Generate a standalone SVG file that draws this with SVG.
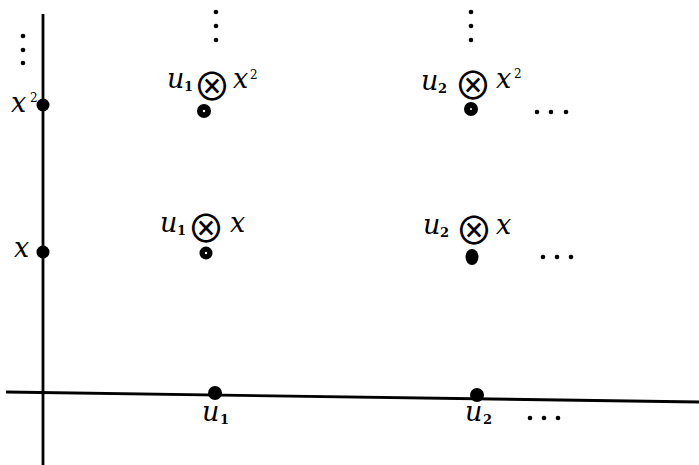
<svg xmlns="http://www.w3.org/2000/svg" width="699" height="465" viewBox="0 0 699 465">
<style>
text{font-family:'DejaVu Serif',serif;font-style:italic;font-size:27px;fill:#000}
.sub{font-size:13px;font-style:normal;font-weight:bold}
.sup{font-size:12px;font-style:normal}
.op{font-family:'Noto Sans CJK JP','DejaVu Sans',sans-serif;font-style:normal;font-size:38px}
.ax{stroke:#000;stroke-width:2.8;fill:none}
.dot{fill:#000}
.sm{fill:#000}
.hole{fill:#fff}
</style>
<rect width="699" height="465" fill="#fff"/>
<g id="connectors">
<line class="ax" x1="43" y1="14" x2="43" y2="465"/>
<line class="ax" x1="6" y1="392" x2="699" y2="402"/>
</g>
<g id="vdots-axis"><circle class="sm" cx="23" cy="36" r="2.3"/><circle class="sm" cx="23" cy="50" r="2.3"/><circle class="sm" cx="23" cy="63" r="2.3"/></g>
<g id="vdots-u1"><circle class="sm" cx="216" cy="12" r="2.3"/><circle class="sm" cx="216" cy="26" r="2.3"/><circle class="sm" cx="216" cy="40" r="2.3"/></g>
<g id="vdots-u2"><circle class="sm" cx="471" cy="12" r="2.3"/><circle class="sm" cx="471" cy="26" r="2.3"/><circle class="sm" cx="471" cy="40" r="2.3"/></g>
<g id="node-x2"><circle class="dot" cx="43" cy="105" r="6.5"/><text x="11" y="112">x<tspan class="sup" x="30" y="102">2</tspan></text></g>
<g id="node-x"><circle class="dot" cx="43" cy="252" r="6.5"/><text x="14" y="257">x</text></g>
<g id="node-u1"><circle class="dot" cx="215" cy="393" r="7"/><text x="202" y="421">u<tspan class="sub" x="220" y="424">1</tspan></text></g>
<g id="node-u2"><circle class="dot" cx="477" cy="395" r="7"/><text x="465" y="421">u<tspan class="sub" x="483" y="424">2</tspan></text></g>
<g id="hdots-u2"><circle class="sm" cx="530" cy="418" r="2.3"/><circle class="sm" cx="544" cy="418" r="2.3"/><circle class="sm" cx="558" cy="418" r="2.3"/></g>
<g id="node-u1x2"><circle class="dot" cx="204" cy="111" r="7"/><circle class="hole" cx="204" cy="111" r="1.2"/>
<text x="167" y="88">u<tspan class="sub" x="184" y="91">1</tspan><tspan class="op" x="193" y="99.5">⊗</tspan><tspan x="233" y="88">x</tspan><tspan class="sup" x="250" y="79">2</tspan></text></g>
<g id="node-u2x2"><circle class="dot" cx="471" cy="109" r="7"/><circle class="hole" cx="471" cy="109" r="1"/>
<text x="421" y="90">u<tspan class="sub" x="438" y="93">2</tspan><tspan class="op" x="454" y="98.5">⊗</tspan><tspan x="496" y="88">x</tspan><tspan class="sup" x="514" y="78">2</tspan></text></g>
<g id="hdots-u2x2"><circle class="sm" cx="537" cy="112" r="2.3"/><circle class="sm" cx="551" cy="112" r="2.3"/><circle class="sm" cx="566" cy="112" r="2.3"/></g>
<g id="node-u1x"><circle class="dot" cx="206" cy="253" r="6.5"/><circle class="hole" cx="206" cy="253" r="1.2"/>
<text x="160" y="232">u<tspan class="sub" x="177" y="235">1</tspan><tspan class="op" x="187" y="241.5">⊗</tspan><tspan x="230" y="232">x</tspan></text></g>
<g id="node-u2x"><ellipse class="dot" cx="472" cy="257" rx="6.5" ry="8"/>
<text x="423" y="234">u<tspan class="sub" x="440" y="237">2</tspan><tspan class="op" x="455" y="243.5">⊗</tspan><tspan x="496" y="234">x</tspan></text></g>
<g id="hdots-u2x"><circle class="sm" cx="543" cy="257" r="2.3"/><circle class="sm" cx="557" cy="257" r="2.3"/><circle class="sm" cx="571" cy="257" r="2.3"/></g>
</svg>
